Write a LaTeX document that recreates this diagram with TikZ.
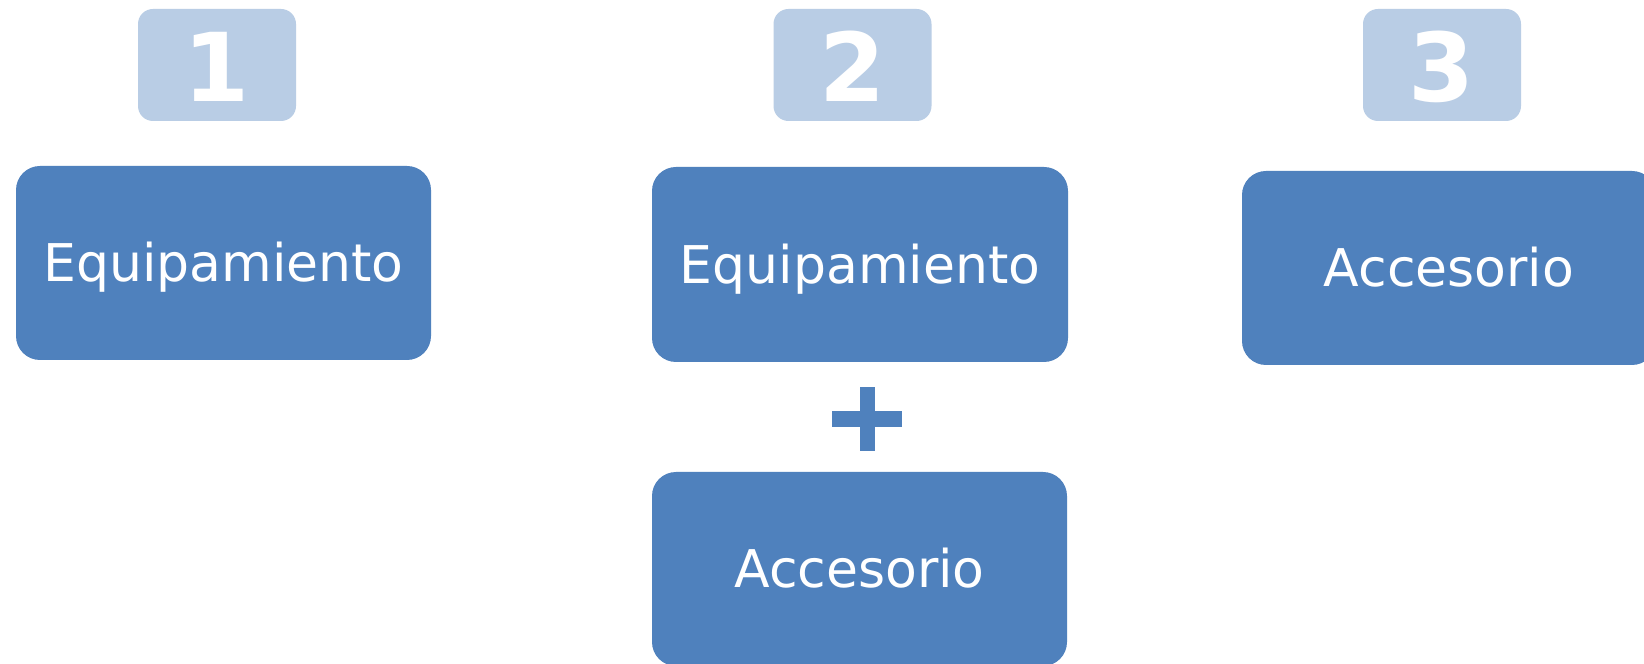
\documentclass[tikz,border=0pt]{standalone}
\usepackage{fontspec}
\setmainfont{DejaVu Sans}
\definecolor{boxblue}{HTML}{4F81BD}
\definecolor{numblue}{HTML}{B9CDE5}
\begin{document}
\begin{tikzpicture}[x=1pt,y=1pt,
  bigbox/.style={rectangle, rounded corners=24pt, fill=boxblue, draw=none,
    minimum width=415pt, minimum height=194pt, inner sep=0pt,
    text=white, font=\fontsize{52}{60}\selectfont, text height=38pt, text depth=0pt},
  numbox/.style={rectangle, rounded corners=15pt, fill=numblue, draw=none,
    minimum width=158pt, minimum height=112pt, inner sep=0pt,
    text=white, font=\fontsize{95}{100}\selectfont\bfseries, text height=74pt, text depth=0pt}]
\useasboundingbox (0,0) rectangle (1644,664);
\fill[white] (0,0) rectangle (1644,664);
\clip (0,0) rectangle (1644,664);
% number boxes
\node[numbox] (n1) at (217,599) {1};
\node[numbox] (n2) at (852.5,599) {2};
\node[numbox] (n3) at (1442,599) {3};
% main boxes
\node[bigbox] (b1) at (223.5,401) {Equipamiento};
\node[bigbox, minimum width=416pt, minimum height=195pt] (b2) at (860,399.5) {Equipamiento};
\node[bigbox, minimum width=414pt] (b3) at (1449,396) {Accesorio};
\node[bigbox] (b4) at (859.5,95) {Accesorio};
% plus sign
\fill[boxblue] (832,237) rectangle (902,253);
\fill[boxblue] (860,213) rectangle (875,277);
\end{tikzpicture}
\end{document}
